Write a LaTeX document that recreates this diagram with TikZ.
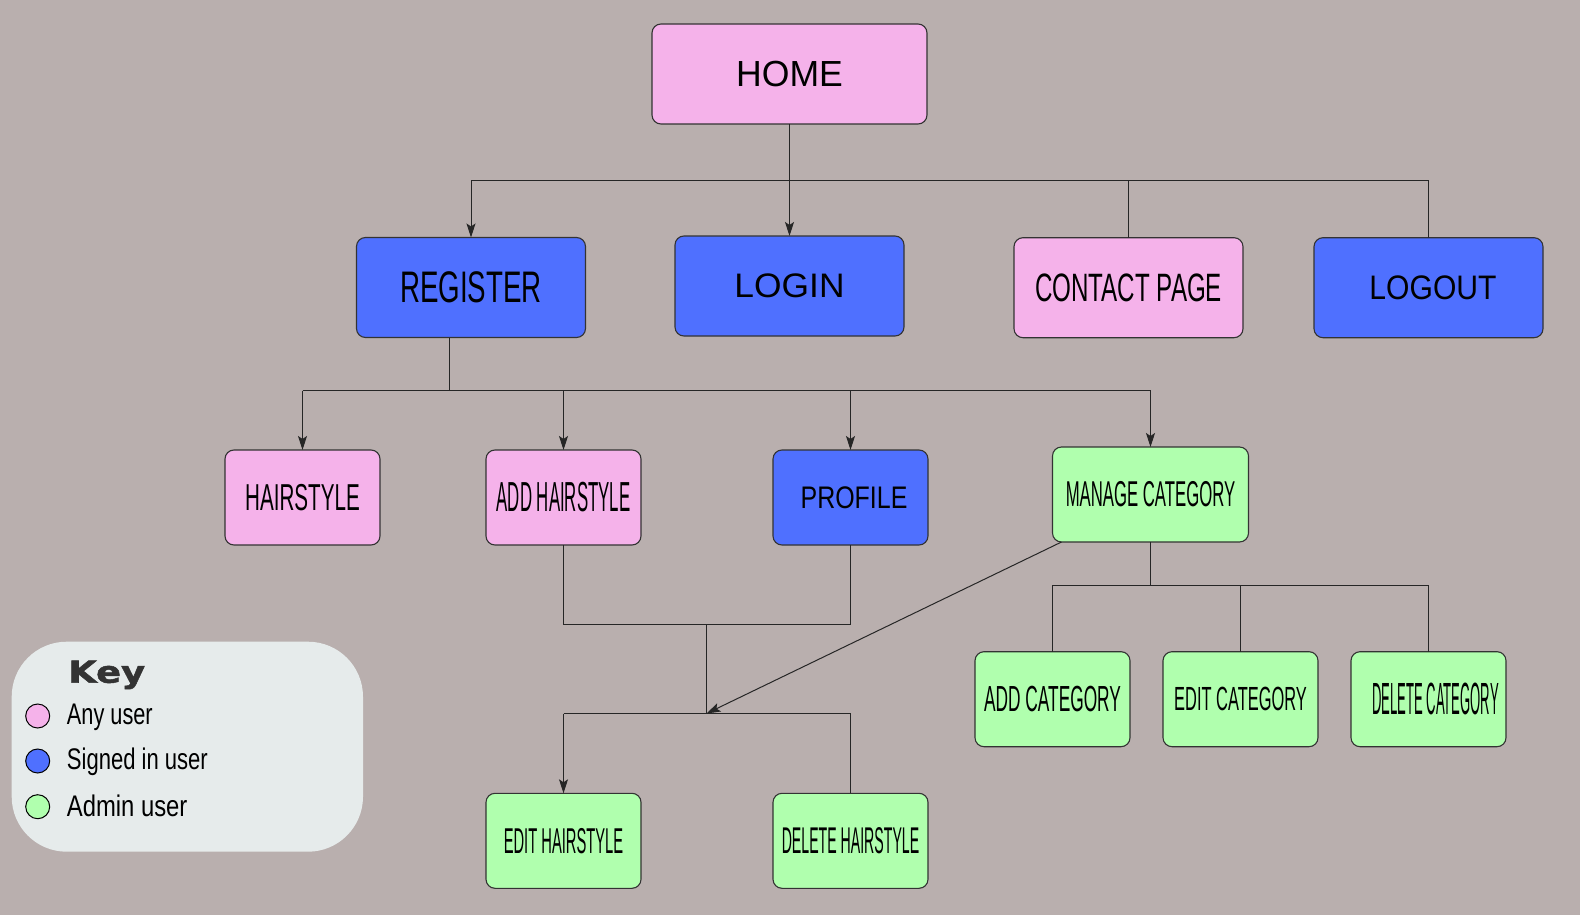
\documentclass[tikz,border=0pt]{standalone}
\usepackage{fontspec}
\usepackage{graphicx}
\setmainfont{Liberation Sans}
\newfontfamily\keyfont{DejaVu Sans Bold}[FakeBold=1.5]
\usetikzlibrary{arrows.meta}
\definecolor{bg}{HTML}{B9AFAE}
\definecolor{pinkc}{HTML}{F5B2EA}
\definecolor{bluec}{HTML}{4F70FF}
\definecolor{greenc}{HTML}{B0FFAE}
\definecolor{keyc}{HTML}{E6EBEB}
\definecolor{edgec}{HTML}{333333}
\newcommand{\lab}[3]{\scalebox{#1}[1]{\fontsize{#2}{#2}\selectfont #3}}
\begin{document}
\begin{tikzpicture}[x=1pt,y=-1pt,
  box/.style={draw=edgec, line width=1.1pt, rounded corners=9pt, inner sep=0pt, outer sep=0pt, text=black},
  bigbox/.style={box, minimum width=229pt, minimum height=100pt},
  smallbox/.style={box, minimum width=155pt, minimum height=95pt},
  anyu/.style={fill=pinkc}, signu/.style={fill=bluec}, adminu/.style={fill=greenc},
  link/.style={draw=black!85, line width=1pt},
  arrowline/.style={link, -{Stealth[length=14pt,width=9pt,inset=3pt]}},
  keydot/.style={circle, draw=black, line width=1pt, minimum size=24pt, inner sep=0pt},
  keytext/.style={anchor=base west, inner sep=0pt, text=black}
]
\fill[bg] (0,0) rectangle (1580,915);
\useasboundingbox (0,0) rectangle (1580,915);

% nodes
\node[box, anyu, minimum width=275pt, minimum height=100pt] (home) at (789.5,74) {\lab{0.98}{36.3}{HOME}};
\node[bigbox, signu] (register) at (471,287.5) {\lab{0.627}{44.2}{REGISTER}};
\node[bigbox, signu] (login) at (789.5,286) {\lab{1.04}{34}{LOGIN}};
\node[bigbox, anyu] (contact) at (1128.5,287.7) {\lab{0.61}{39.6}{CONTACT PAGE}};
\node[bigbox, signu] (logout) at (1428.5,287.7) {\hspace*{9pt}\lab{0.885}{34}{LOGOUT}};

\node[smallbox, anyu] (hair) at (302.5,497.5) {\lab{0.55}{37.5}{HAIRSTYLE}};
\node[smallbox, anyu] (addhair) at (563.5,497.5) {\lab{0.40}{42}{ADD HAIRSTYLE}};
\node[smallbox, signu] (profile) at (850.5,497.5) {\hspace*{7pt}\lab{0.80}{31.2}{PROFILE}};
\node[smallbox, adminu, minimum width=196pt] (mancat) at (1150.5,494.5) {\lab{0.466}{35.9}{MANAGE CATEGORY}};

\node[smallbox, adminu] (addcat) at (1052.5,699.2) {\lab{0.477}{36.3}{ADD CATEGORY}};
\node[smallbox, adminu] (editcat) at (1240.5,699.2) {\lab{0.49}{33.5}{EDIT CATEGORY}};
\node[smallbox, adminu] (delcat) at (1428.5,699.2) {\hspace*{14pt}\lab{0.29}{45.1}{DELETE CATEGORY}};

\node[smallbox, adminu] (edithair) at (563.5,840.8) {\lab{0.41}{35.9}{EDIT HAIRSTYLE}};
\node[smallbox, adminu] (delhair) at (850.5,840.8) {\lab{0.38}{37.2}{DELETE HAIRSTYLE}};

% connectors: HOME
\coordinate (b1) at (789.5,180.5);
\draw[arrowline] (home.south) -- (login.north);
\draw[link] (b1 -| register.north) -- (b1 -| logout.north) -- (logout.north);
\draw[arrowline] (b1 -| register.north) -- (register.north);
\draw[link] (b1 -| contact.north) -- (contact.north);

% connectors: REGISTER
\coordinate (b2) at (449.5,390.5);
\draw[link] (register.south -| b2) -- (b2);
\draw[link] (b2 -| hair.north) -- (b2 -| mancat.north);
\foreach \n in {hair,addhair,profile,mancat}
  \draw[arrowline] (b2 -| \n.north) -- (\n.north);

% connectors: merge to edit/delete hairstyle
\coordinate (m1) at (706.5,624.5);
\coordinate (m2) at (706.5,713.5);
\draw[link] (addhair.south) -- (addhair.south |- m1) -- (profile.south |- m1) -- (profile.south);
\draw[link] (m1) -- (m2);
\draw[link] (edithair.north |- m2) -- (delhair.north |- m2) -- (delhair.north);
\draw[arrowline] (edithair.north |- m2) -- (edithair.north);
\draw[arrowline] ([xshift=-89pt]mancat.south) -- (m2);

% connectors: MANAGE CATEGORY
\coordinate (c1) at (1150.5,585.5);
\draw[link] (mancat.south) -- (c1);
\draw[link] (addcat.north) -- (addcat.north |- c1) -- (delcat.north |- c1) -- (delcat.north);
\draw[link] (editcat.north) -- (editcat.north |- c1);

% key
\node[fill=keyc, rounded corners=55pt, minimum width=351.3pt, minimum height=210pt, inner sep=0pt] (keybox) at (187.35,746.7) {};
\node[keytext, text=edgec] (keytitle) at (68,682.7) {\keyfont\lab{1.22}{30.2}{Key}};
\node[keydot, fill=pinkc] (dany) at (37.7,716) {};
\node[keydot, fill=bluec] (dsign) at (37.7,761) {};
\node[keydot, fill=greenc] (dadmin) at (37.7,806.7) {};
\node[keytext] (tany) at (66.7,724) {\lab{0.73}{29.8}{Any user}};
\node[keytext] (tsign) at (66.7,769.3) {\lab{0.74}{29.8}{Signed in user}};
\node[keytext] (tadmin) at (66.7,816.7) {\lab{0.80}{29.8}{Admin user}};
\end{tikzpicture}
\end{document}
